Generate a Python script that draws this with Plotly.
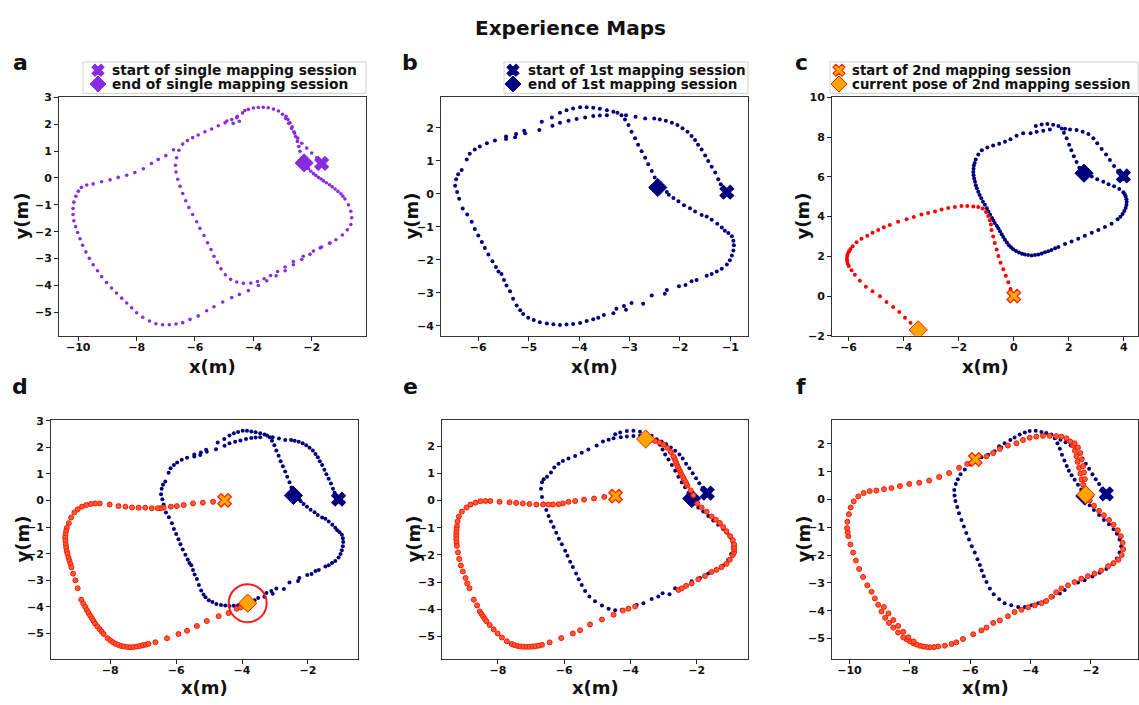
import plotly.graph_objects as go

W, H = 1139, 705
FONT = "DejaVu Sans"
NAVY = "#00007f"
PURPLE = "#8a2be2"
RED = "#ff1a00"
RING_FILL = "#ff5a36"
ORANGE = "#ffa500"

# ---------------- panel a: single mapping session ----------------
single_start = (-1.66, 0.54)
single_end = (-2.26, 0.56)
single_path = [
    (-1.83, 0.75), (-2.0, 0.93), (-2.17, 1.11), (-2.34, 1.29), (-2.48, 1.48), (-2.59, 1.66),
    (-2.69, 1.84), (-2.79, 2.03), (-2.89, 2.21), (-3.0, 2.37), (-3.14, 2.49), (-3.31, 2.56),
    (-3.49, 2.61), (-3.66, 2.63), (-3.83, 2.62), (-4.0, 2.6), (-4.17, 2.55), (-4.29, 2.51),
    (-2.34, 0.75), (-2.4, 0.99), (-2.44, 1.17), (-2.49, 1.36), (-2.55, 1.54), (-2.61, 1.72),
    (-2.67, 1.9), (-2.74, 2.05), (-2.81, 2.17), (-2.88, 2.29),
    (-2.2, 0.45), (-2.11, 0.34), (-2.03, 0.25), (-1.94, 0.16), (-1.86, 0.09), (-1.77, 0.02),
    (-1.68, -0.04), (-1.6, -0.11), (-1.5, -0.18), (-1.39, -0.25), (-1.3, -0.33), (-1.2, -0.41),
    (-1.1, -0.5), (-1.0, -0.59), (-0.93, -0.68), (-0.86, -0.78), (-0.74, -1.0), (-0.66, -1.24),
    (-0.63, -1.48), (-0.66, -1.73), (-0.78, -1.93), (-0.95, -2.12), (-1.17, -2.3), (-1.39, -2.43),
    (-1.66, -2.57), (-1.94, -2.72), (-2.29, -2.91), (-2.63, -3.11), (-2.91, -3.31), (-3.17, -3.48),
    (-3.41, -3.63), (-3.63, -3.75), (-3.86, -3.85), (-4.09, -3.91), (-4.34, -3.92), (-4.57, -3.87),
    (-4.78, -3.77), (-4.96, -3.6), (-5.11, -3.38), (-5.23, -3.14), (-5.35, -2.91), (-5.45, -2.66),
    (-5.57, -2.41), (-5.69, -2.14), (-5.83, -1.87), (-5.94, -1.63), (-6.08, -1.36), (-6.21, -1.1),
    (-6.32, -0.85), (-6.42, -0.58), (-6.51, -0.31), (-6.59, -0.05), (-6.65, 0.22), (-6.67, 0.47),
    (-6.63, 0.75), (-6.55, 1.03), (-6.42, 1.26), (-6.26, 1.39), (-6.08, 1.5), (-5.89, 1.6),
    (-5.66, 1.72), (-5.43, 1.82), (-5.2, 1.94), (-4.97, 2.05), (-4.74, 2.17), (-4.55, 2.29),
    (-4.37, 2.42), (-4.91, 2.12), (-4.69, 2.03), (-4.48, 2.11), (-4.57, 2.24),
    (-6.74, 1.05), (-7.0, 0.83), (-7.26, 0.69), (-7.49, 0.54), (-7.77, 0.34), (-8.06, 0.2),
    (-8.34, 0.1), (-8.63, 0.02), (-8.91, -0.07), (-9.2, -0.14), (-9.49, -0.22), (-9.71, -0.26),
    (-9.89, -0.35), (-10.0, -0.49), (-10.08, -0.68), (-10.15, -0.9), (-10.18, -1.14),
    (-10.18, -1.36), (-10.15, -1.59), (-10.09, -1.81), (-10.02, -2.03), (-9.94, -2.26),
    (-9.85, -2.5), (-9.74, -2.75), (-9.62, -2.99), (-9.49, -3.23), (-9.34, -3.45), (-9.2, -3.67),
    (-9.03, -3.89), (-8.86, -4.09), (-8.69, -4.28), (-8.51, -4.47), (-8.34, -4.65), (-8.17, -4.83),
    (-8.0, -5.01), (-7.79, -5.18), (-7.56, -5.32), (-7.34, -5.42), (-7.11, -5.46), (-6.88, -5.46),
    (-6.65, -5.43), (-6.42, -5.38), (-6.17, -5.26), (-5.89, -5.13), (-5.6, -4.94), (-5.35, -4.79),
    (-5.05, -4.61), (-4.74, -4.45), (-4.48, -4.33), (-4.17, -4.19), (-3.83, -4.0), (-3.54, -3.82),
    (-3.22, -3.64), (-2.91, -3.45), (-2.63, -3.23), (-2.34, -3.03), (-2.06, -2.84), (-1.71, -2.6),
    (-1.37, -2.42),
]

# ---------------- 1st mapping session (panels b and d) ----------------
first_start = (-1.07, 0.05)
first_end = (-2.44, 0.19)
first_path = [
    (-1.19, 0.29), (-1.24, 0.44), (-1.3, 0.64), (-1.37, 0.82), (-1.44, 0.99), (-1.5, 1.16),
    (-1.57, 1.34), (-1.64, 1.48), (-1.7, 1.63), (-1.77, 1.75), (-1.85, 1.88), (-1.95, 1.98),
    (-2.05, 2.08), (-2.16, 2.15), (-2.28, 2.21), (-2.4, 2.25), (-2.51, 2.28), (-2.69, 2.28),
    (-2.88, 2.33), (-3.07, 2.38),
    (-2.5, 0.49), (-2.56, 0.69), (-2.63, 0.89), (-2.69, 1.09), (-2.76, 1.29), (-2.83, 1.48),
    (-2.89, 1.68), (-2.96, 1.88), (-3.02, 2.08), (-3.09, 2.25), (-3.16, 2.38), (-3.24, 2.45),
    (-3.32, 2.48), (-3.45, 2.53), (-3.59, 2.57), (-3.72, 2.6), (-3.85, 2.62), (-3.98, 2.62),
    (-4.12, 2.58), (-4.25, 2.53), (-4.38, 2.45), (-4.54, 2.31), (-4.74, 2.18),
    (-3.45, 2.38), (-3.59, 2.37), (-3.72, 2.35), (-3.88, 2.31), (-4.05, 2.26), (-4.21, 2.21),
    (-4.38, 2.15), (-4.53, 2.06), (-4.79, 1.93), (-5.09, 1.91), (-5.07, 1.83), (-5.25, 1.81),
    (-5.27, 1.71), (-5.45, 1.73), (-5.45, 1.66), (-5.67, 1.61), (-5.83, 1.53), (-5.97, 1.43),
    (-6.07, 1.34), (-6.17, 1.21), (-6.23, 1.04), (-6.33, 0.72), (-6.4, 0.59), (-6.44, 0.44),
    (-6.46, 0.24), (-6.42, 0.05), (-6.38, -0.15), (-6.31, -0.45), (-6.22, -0.63), (-6.13, -0.85),
    (-6.07, -1.07), (-6.0, -1.26), (-5.93, -1.46), (-5.87, -1.64), (-5.8, -1.84), (-5.72, -2.04),
    (-5.65, -2.22), (-5.6, -2.35), (-5.54, -2.43), (-5.49, -2.61), (-5.44, -2.78), (-5.37, -2.95),
    (-5.31, -3.18), (-5.24, -3.38), (-5.17, -3.53), (-5.11, -3.64), (-5.01, -3.75), (-4.9, -3.82),
    (-4.78, -3.89), (-4.64, -3.93), (-4.51, -3.95), (-4.38, -3.97), (-4.25, -3.96), (-4.12, -3.94),
    (-3.98, -3.91), (-3.85, -3.85), (-3.72, -3.8), (-3.62, -3.75), (-3.51, -3.67), (-3.32, -3.62),
    (-3.26, -3.48), (-3.11, -3.4), (-3.07, -3.51), (-2.96, -3.31), (-2.73, -3.33), (-2.56, -3.08),
    (-2.3, -3.03), (-2.26, -2.91), (-2.02, -2.8), (-1.89, -2.76), (-1.77, -2.65), (-1.67, -2.61),
    (-1.47, -2.48), (-1.37, -2.43), (-1.27, -2.35), (-1.17, -2.27), (-1.07, -2.14), (-1.01, -2.01),
    (-0.97, -1.87), (-0.94, -1.72), (-0.93, -1.56), (-0.94, -1.42), (-0.97, -1.29), (-1.04, -1.19),
    (-1.11, -1.12), (-1.17, -1.02), (-1.26, -0.91), (-1.37, -0.79), (-1.47, -0.69), (-1.57, -0.64),
    (-1.7, -0.54), (-1.8, -0.44), (-1.92, -0.35), (-2.03, -0.23), (-2.13, -0.13), (-2.22, -0.03),
    (-2.26, 0.05),
]

# ---------------- panel c: both sessions in separate frames ----------------
c_first_start = (3.98, 6.04)
c_first_end = (2.55, 6.18)
c_first_path = [
    (3.79, 6.29), (3.64, 6.54), (3.49, 6.84), (3.35, 7.12), (3.19, 7.4), (3.03, 7.69),
    (2.89, 7.94), (2.71, 8.15), (2.5, 8.27), (2.28, 8.35), (2.04, 8.38), (1.86, 8.42),
    (2.38, 6.46), (2.28, 6.74), (2.18, 7.03), (2.09, 7.33), (2.01, 7.61), (1.92, 7.94),
    (1.82, 8.22), (1.74, 8.43), (1.62, 8.55), (1.43, 8.62), (1.22, 8.66), (1.01, 8.63),
    (0.8, 8.55), (1.31, 8.38), (1.07, 8.32), (0.83, 8.27), (0.61, 8.19),
    (0.34, 8.19), (0.1, 8.06), (-0.12, 7.89), (-0.32, 7.76), (-0.53, 7.66), (-0.75, 7.58),
    (-0.96, 7.48), (-1.16, 7.33), (-1.29, 7.12), (-1.38, 6.87), (-1.42, 6.7), (-1.45, 6.57),
    (-1.46, 6.4), (-1.47, 6.24), (-1.46, 6.08), (-1.44, 5.91), (-1.41, 5.75), (-1.38, 5.58),
    (-1.34, 5.42), (-1.29, 5.25), (-1.24, 5.08), (-1.18, 4.92), (-1.12, 4.75), (-1.05, 4.59),
    (-0.98, 4.42), (-0.92, 4.26), (-0.86, 4.1), (-0.79, 3.93), (-0.74, 3.8), (-0.69, 3.67),
    (-0.62, 3.54), (-0.56, 3.41), (-0.5, 3.26), (-0.44, 3.11), (-0.38, 2.97), (-0.32, 2.83),
    (-0.25, 2.69), (-0.18, 2.55), (-0.1, 2.45), (-0.02, 2.35), (0.08, 2.27), (0.19, 2.19),
    (0.3, 2.13), (0.4, 2.09), (0.52, 2.06), (0.65, 2.04), (0.77, 2.06), (0.89, 2.09),
    (1.01, 2.14), (1.13, 2.2), (1.25, 2.26), (1.37, 2.32), (1.5, 2.4), (1.62, 2.47),
    (1.86, 2.62), (2.1, 2.75), (2.34, 2.88), (2.58, 3.04), (2.83, 3.19), (3.07, 3.32),
    (3.31, 3.47), (3.55, 3.64), (3.77, 3.87), (3.87, 3.99), (3.95, 4.13), (4.01, 4.28),
    (4.06, 4.43), (4.09, 4.58), (4.1, 4.73), (4.09, 4.87), (4.06, 5.01), (4.03, 5.12),
    (3.98, 5.22), (3.83, 5.38), (3.64, 5.52), (3.44, 5.63), (3.25, 5.75), (3.03, 5.88),
    (2.83, 6.01), (2.7, 6.1),
]
c_second_start = (0.0, 0.0)
c_second_now = (-3.47, -1.7)
c_second_path = [
    (-0.12, 0.36), (-0.2, 0.69), (-0.29, 1.02), (-0.38, 1.35), (-0.48, 1.68), (-0.56, 2.01),
    (-0.62, 2.34), (-0.69, 2.67), (-0.75, 3.0), (-0.81, 3.32), (-0.83, 3.6), (-0.87, 3.82),
    (-0.93, 4.03), (-1.01, 4.23), (-1.13, 4.4), (-1.29, 4.48), (-1.47, 4.51), (-1.69, 4.53),
    (-1.9, 4.53), (-2.14, 4.48), (-2.38, 4.43), (-2.62, 4.35), (-2.86, 4.26), (-3.11, 4.18),
    (-3.35, 4.1), (-3.63, 3.98), (-3.89, 3.87), (-4.2, 3.74), (-4.5, 3.57), (-4.72, 3.46),
    (-4.92, 3.32), (-5.13, 3.19), (-5.32, 3.04), (-5.53, 2.88), (-5.71, 2.71), (-5.85, 2.5),
    (-5.93, 2.37), (-5.98, 2.25), (-6.03, 2.12), (-6.05, 2.01), (-6.06, 1.88), (-6.05, 1.76),
    (-6.03, 1.63), (-5.99, 1.51), (-5.89, 1.3), (-5.77, 1.07), (-5.59, 0.77), (-5.37, 0.47),
    (-5.13, 0.24), (-4.86, -0.01), (-4.62, -0.3), (-4.38, -0.55), (-4.16, -0.8), (-3.95, -1.09),
    (-3.75, -1.34),
]

# ---------------- panel d: 2nd session joined to the 1st map ----------------
d_second_start = (-4.53, 0.01)
d_second_now = (-3.83, -3.86)
d_second_path = [
    (-4.88, -0.05), (-5.19, -0.08), (-5.49, -0.11), (-5.77, -0.17), (-5.98, -0.21), (-6.16, -0.23),
    (-6.38, -0.27), (-6.48, -0.29), (-6.56, -0.29), (-6.74, -0.29), (-6.94, -0.27), (-7.14, -0.27),
    (-7.34, -0.26), (-7.54, -0.23), (-7.75, -0.21), (-8.02, -0.15), (-8.32, -0.11), (-8.46, -0.11),
    (-8.59, -0.13), (-8.73, -0.17), (-8.86, -0.23), (-8.99, -0.33), (-9.09, -0.45), (-9.19, -0.64),
    (-9.26, -0.85), (-9.32, -1.03), (-9.34, -1.15), (-9.36, -1.28), (-9.37, -1.4), (-9.36, -1.52),
    (-9.35, -1.65), (-9.34, -1.77), (-9.32, -1.9), (-9.3, -2.01), (-9.27, -2.14), (-9.24, -2.26),
    (-9.21, -2.38), (-9.18, -2.51), (-9.13, -2.75), (-9.06, -3.0), (-8.99, -3.3), (-8.88, -3.73),
    (-8.82, -3.87), (-8.76, -4.0), (-8.71, -4.12), (-8.66, -4.23), (-8.61, -4.33), (-8.56, -4.43),
    (-8.51, -4.53), (-8.46, -4.63), (-8.39, -4.74), (-8.32, -4.84), (-8.26, -4.93), (-8.2, -5.02),
    (-8.08, -5.18), (-8.0, -5.26), (-7.92, -5.33), (-7.84, -5.39), (-7.75, -5.43), (-7.67, -5.47),
    (-7.58, -5.49), (-7.48, -5.51), (-7.39, -5.52), (-7.29, -5.51), (-7.19, -5.49), (-7.1, -5.47),
    (-7.01, -5.44), (-6.92, -5.42), (-6.84, -5.39), (-6.63, -5.33), (-6.28, -5.18), (-5.93, -5.02),
    (-5.67, -4.9), (-5.37, -4.72), (-5.07, -4.53), (-4.71, -4.35), (-4.41, -4.23), (-4.16, -4.07),
    (-4.05, -4.02),
]

# ---------------- panel e ----------------
e_first_start = (-1.68, 0.27)
e_first_end = (-2.15, 0.07)
e_first_path = [
    (-1.82, 0.46), (-1.92, 0.63), (-2.02, 0.82), (-2.12, 1.0), (-2.22, 1.18), (-2.32, 1.35),
    (-2.42, 1.54), (-2.52, 1.69), (-2.65, 1.83), (-2.78, 1.95), (-2.92, 2.07), (-3.06, 2.17),
    (-3.21, 2.25),
    (-2.25, 0.27), (-2.35, 0.49), (-2.45, 0.67), (-2.55, 0.87), (-2.65, 1.09), (-2.75, 1.3),
    (-2.85, 1.51), (-2.95, 1.69), (-3.03, 1.87), (-3.11, 2.05), (-3.21, 2.23), (-3.36, 2.38),
    (-3.51, 2.47), (-3.71, 2.53), (-3.91, 2.56), (-4.11, 2.55), (-4.31, 2.5), (-4.46, 2.43),
    (-3.71, 2.38), (-3.91, 2.37), (-4.11, 2.35), (-4.29, 2.32), (-4.51, 2.29), (-4.66, 2.23),
    (-4.83, 2.17), (-5.02, 2.02), (-5.27, 1.87), (-5.47, 1.75), (-5.67, 1.63), (-5.87, 1.54),
    (-6.04, 1.45), (-6.17, 1.35), (-6.3, 1.21), (-6.4, 1.03), (-6.52, 0.87), (-6.62, 0.78),
    (-6.67, 0.67), (-6.7, 0.43), (-6.67, 0.13), (-6.62, -0.11), (-6.54, -0.35), (-6.47, -0.57),
    (-6.4, -0.77), (-6.32, -0.98), (-6.24, -1.19), (-6.16, -1.41), (-6.07, -1.61), (-5.97, -1.85),
    (-5.9, -2.03), (-5.82, -2.25), (-5.74, -2.45), (-5.64, -2.69), (-5.56, -2.9), (-5.47, -3.11),
    (-5.37, -3.33), (-5.24, -3.53), (-5.07, -3.71), (-4.86, -3.86), (-4.66, -3.98), (-4.46, -4.04),
    (-4.26, -4.02), (-4.06, -3.96), (-3.81, -3.84), (-3.61, -3.78), (-3.36, -3.62), (-3.16, -3.53),
    (-3.03, -3.41), (-2.82, -3.45), (-2.65, -3.23),
    (-2.15, -2.97), (-1.9, -2.85), (-1.65, -2.69), (-1.4, -2.57), (-1.2, -2.39), (-1.05, -2.18),
    (-0.96, -1.97), (-0.91, -1.73), (-0.91, -1.55), (-0.97, -1.37), (-1.08, -1.19), (-1.2, -1.05),
    (-1.35, -0.89), (-1.5, -0.74), (-1.65, -0.57), (-1.8, -0.41), (-1.95, -0.26), (-2.05, -0.11),
]
e_second_start = (-4.45, 0.16)
e_second_now = (-3.54, 2.26)
e_second_path = [
    (-4.79, 0.13), (-5.1, 0.07), (-5.4, 0.03), (-5.67, -0.02), (-5.87, -0.05), (-6.04, -0.11),
    (-6.17, -0.14), (-6.34, -0.15), (-6.47, -0.15), (-6.64, -0.15), (-6.84, -0.15), (-7.05, -0.13),
    (-7.25, -0.11), (-7.45, -0.09), (-7.65, -0.07), (-7.95, -0.05), (-8.23, -0.02), (-8.38, -0.02),
    (-8.53, -0.03), (-8.68, -0.08), (-8.83, -0.15), (-8.95, -0.26), (-9.09, -0.41), (-9.18, -0.59),
    (-9.22, -0.77), (-9.24, -0.95), (-9.25, -1.07), (-9.26, -1.19), (-9.26, -1.31), (-9.26, -1.43),
    (-9.25, -1.55), (-9.24, -1.67), (-9.21, -1.91), (-9.17, -2.15), (-9.12, -2.39), (-9.06, -2.61),
    (-8.98, -2.85), (-8.93, -3.05), (-8.86, -3.23), (-8.73, -3.65), (-8.63, -3.86), (-8.55, -4.08),
    (-8.5, -4.17), (-8.45, -4.26), (-8.4, -4.35), (-8.35, -4.44), (-8.25, -4.58), (-8.13, -4.74),
    (-8.01, -4.89), (-7.88, -5.04), (-7.73, -5.18), (-7.58, -5.28), (-7.5, -5.32), (-7.41, -5.35),
    (-7.32, -5.37), (-7.23, -5.38), (-7.14, -5.38), (-7.05, -5.38), (-6.96, -5.37), (-6.87, -5.36),
    (-6.77, -5.34), (-6.67, -5.31), (-6.44, -5.22), (-6.09, -5.06), (-5.74, -4.89), (-5.52, -4.77),
    (-5.22, -4.56), (-4.86, -4.38), (-4.51, -4.2), (-4.23, -4.05), (-4.06, -3.98), (-3.86, -3.9),
    (-2.55, -3.29), (-2.45, -3.23), (-2.32, -3.14), (-2.15, -3.05), (-1.95, -2.9), (-1.75, -2.78),
    (-1.55, -2.63), (-1.4, -2.55), (-1.25, -2.45), (-1.1, -2.33), (-1.0, -2.18), (-0.91, -2.01),
    (-0.87, -1.9), (-0.87, -1.79), (-0.87, -1.7), (-0.87, -1.61), (-0.91, -1.46), (-0.99, -1.31),
    (-1.1, -1.13), (-1.2, -0.98), (-1.3, -0.83), (-1.42, -0.71), (-1.55, -0.59), (-1.7, -0.41),
    (-1.85, -0.26), (-1.98, -0.11), (-2.1, 0.19), (-2.18, 0.37), (-2.28, 0.55), (-2.32, 0.64),
    (-2.36, 0.73), (-2.4, 0.82), (-2.44, 0.91), (-2.48, 1.0), (-2.51, 1.09), (-2.55, 1.18),
    (-2.58, 1.27), (-2.61, 1.36), (-2.64, 1.45), (-2.67, 1.54), (-2.7, 1.62), (-2.78, 1.78),
    (-2.88, 1.93), (-3.0, 2.05), (-3.13, 2.13), (-3.26, 2.19), (-3.39, 2.23),
]

# ---------------- panel f ----------------
f_first_start = (-1.49, 0.2)
f_first_end = (-2.2, 0.12)
f_first_path = [
    (-1.62, 0.38), (-1.73, 0.56), (-1.84, 0.73), (-1.95, 0.91), (-2.06, 1.1), (-2.17, 1.28),
    (-2.28, 1.47), (-2.39, 1.64), (-2.53, 1.8), (-2.67, 1.94), (-2.84, 2.06), (-3.01, 2.15),
    (-3.17, 2.22),
    (-3.31, 2.34), (-3.2, 2.2), (-3.11, 2.02), (-3.03, 1.82), (-2.96, 1.61), (-2.88, 1.4),
    (-2.8, 1.2), (-2.73, 1.03), (-2.64, 0.87), (-2.54, 0.71), (-2.43, 0.53), (-2.32, 0.36),
    (-3.48, 2.39), (-3.64, 2.43), (-3.83, 2.47), (-4.03, 2.46), (-4.19, 2.41), (-4.36, 2.34),
    (-4.53, 2.23), (-4.67, 2.14), (-4.86, 2.02), (-4.97, 1.87), (-5.04, 1.91), (-5.19, 1.73),
    (-5.41, 1.61), (-5.63, 1.52), (-5.82, 1.4), (-5.99, 1.26), (-6.18, 1.08), (-6.32, 0.91),
    (-6.41, 0.73), (-6.48, 0.56), (-6.53, 0.34), (-6.52, 0.14), (-6.49, -0.06), (-6.43, -0.27),
    (-6.37, -0.5), (-6.29, -0.74), (-6.21, -0.97), (-6.13, -1.21), (-6.04, -1.44), (-5.95, -1.68),
    (-5.85, -1.91), (-5.76, -2.15), (-5.68, -2.36), (-5.62, -2.56), (-5.55, -2.76), (-5.46, -2.97),
    (-5.35, -3.2), (-5.22, -3.41), (-5.04, -3.59), (-4.86, -3.73), (-4.64, -3.81), (-4.41, -3.87),
    (-4.19, -3.87), (-3.97, -3.81), (-3.75, -3.73), (-3.53, -3.67), (-3.26, -3.5), (-3.03, -3.38),
    (-2.87, -3.26), (-2.43, -2.99), (-2.21, -2.91), (-1.95, -2.77), (-1.71, -2.64), (-1.49, -2.5),
    (-1.29, -2.32), (-1.14, -2.12), (-1.05, -1.91), (-1.0, -1.68), (-1.05, -1.44), (-1.14, -1.23),
    (-1.25, -1.07), (-1.4, -0.89), (-1.57, -0.74), (-1.73, -0.56), (-1.9, -0.38), (-2.04, -0.21),
    (-2.15, -0.03),
]
f_second_start = (-5.83, 1.44)
f_second_now = (-2.17, 0.17)
f_second_path = [
    (-5.46, 1.55), (-5.24, 1.67), (-5.02, 1.82), (-4.75, 1.94), (-4.47, 2.02), (-4.25, 2.14),
    (-4.03, 2.22), (-3.81, 2.26), (-3.59, 2.29), (-3.37, 2.29), (-3.15, 2.28), (-2.98, 2.26),
    (-2.81, 2.2), (-2.68, 2.08), (-2.59, 1.94), (-2.53, 1.75), (-2.48, 1.55), (-2.44, 1.35),
    (-2.39, 1.14), (-2.35, 0.93), (-2.31, 0.72), (-2.26, 0.53), (-2.21, 0.36),
    (-2.54, 2.02), (-2.43, 1.87), (-2.35, 1.67), (-2.31, 1.44), (-2.26, 1.2), (-2.23, 0.97),
    (-2.2, 0.73),
    (-2.04, -0.03), (-1.9, -0.23), (-1.73, -0.41), (-1.57, -0.57), (-1.4, -0.74), (-1.25, -0.91),
    (-1.11, -1.11), (-1.01, -1.32), (-0.95, -1.56), (-0.93, -1.79), (-0.98, -2.0), (-1.09, -2.17),
    (-1.25, -2.29), (-1.43, -2.4), (-1.66, -2.56), (-1.88, -2.67), (-2.1, -2.76), (-2.32, -2.85),
    (-2.54, -2.97), (-2.76, -3.09), (-2.98, -3.2), (-3.15, -3.34), (-3.31, -3.5), (-3.48, -3.65),
    (-3.64, -3.73), (-3.86, -3.81), (-4.08, -3.88), (-4.3, -3.97), (-4.53, -4.05), (-4.75, -4.2),
    (-5.02, -4.35), (-5.24, -4.44), (-5.46, -4.61), (-5.63, -4.71), (-5.9, -4.85), (-6.24, -5.02),
    (-6.46, -5.14), (-6.62, -5.2), (-6.84, -5.26), (-7.06, -5.29), (-7.2, -5.31), (-7.34, -5.32),
    (-7.45, -5.31), (-7.56, -5.29), (-7.67, -5.26), (-7.78, -5.22), (-7.89, -5.17), (-8.0, -5.1),
    (-8.11, -5.03), (-8.22, -4.96), (-8.39, -4.79), (-8.55, -4.61), (-8.69, -4.44), (-8.82, -4.26),
    (-8.94, -4.03), (-9.05, -3.79), (-9.16, -3.56), (-9.27, -3.32), (-9.41, -3.09), (-9.55, -2.79),
    (-9.68, -2.5), (-9.79, -2.2), (-9.88, -1.91), (-9.97, -1.62), (-10.04, -1.32), (-10.06, -1.18),
    (-10.08, -1.03), (-10.07, -0.8), (-10.02, -0.53), (-9.96, -0.29), (-9.86, -0.07), (-9.71, 0.11),
    (-9.53, 0.23), (-9.33, 0.3), (-9.11, 0.32), (-8.86, 0.37), (-8.61, 0.41), (-8.33, 0.48),
    (-8.02, 0.56), (-7.69, 0.6), (-7.36, 0.68), (-7.03, 0.81), (-6.7, 0.95), (-6.37, 1.14),
    (-6.1, 1.28),
    (-8.86, -3.87), (-8.71, -4.1), (-8.55, -4.34), (-8.39, -4.55), (-8.22, -4.76), (-8.05, -4.96),
    (-7.87, -5.11),
]

TITLE = "Experience Maps"
PANEL_LETTERS = ["a", "b", "c", "d", "e", "f"]
LEGEND_TEXT = {
    "a": ("start of single mapping session", "end of single mapping session"),
    "b": ("start of 1st mapping session", "end of 1st mapping session"),
    "c": ("start of 2nd mapping session", "current pose of 2nd mapping session"),
}

# ---------------- figure layout (pixel boxes of the six axes) ----------------
boxes = {
    "a": (59, 366, 93, 336), "b": (441, 748, 93, 336), "c": (832, 1138, 93, 336),
    "d": (51, 358, 422, 665), "e": (442, 748, 422, 665), "f": (832, 1138, 422, 665),
}
ranges = {
    "a": ([-10.66, -0.14], [-5.87, 3.0]),
    "b": ([-6.74, -0.65], [-4.30, 2.92]),
    "c": ([-6.6, 4.51], [-2.0, 10.0]),
    "d": ([-9.80, -0.48], [-5.95, 3.02]),
    "e": ([-9.69, -0.45], [-5.82, 2.95]),
    "f": ([-10.58, -0.44], [-5.73, 2.85]),
}
tickvals = {
    "a": ([-10, -8, -6, -4, -2], [-5, -4, -3, -2, -1, 0, 1, 2, 3]),
    "b": ([-6, -5, -4, -3, -2, -1], [-4, -3, -2, -1, 0, 1, 2]),
    "c": ([-6, -4, -2, 0, 2, 4], [-2, 0, 2, 4, 6, 8, 10]),
    "d": ([-8, -6, -4, -2], [-5, -4, -3, -2, -1, 0, 1, 2, 3]),
    "e": ([-8, -6, -4, -2], [-5, -4, -3, -2, -1, 0, 1, 2]),
    "f": ([-10, -8, -6, -4, -2], [-5, -4, -3, -2, -1, 0, 1, 2]),
}
axis_ids = {k: ("x" if i == 0 else f"x{i+1}", "y" if i == 0 else f"y{i+1}")
            for i, k in enumerate(PANEL_LETTERS)}
KEY_AXES = ("x7", "y7")   # full-figure pixel axes used for the legend keys

fig = go.Figure()


def unzip(pts):
    return [p[0] for p in pts], [p[1] for p in pts]


def dots(panel, pts, color, size=4, ring=False):
    xs, ys = unzip(pts)
    xa, ya = axis_ids[panel]
    if ring:
        marker = dict(size=size, color=RING_FILL, line=dict(color=RED, width=1))
    else:
        marker = dict(size=size, color=color, line=dict(width=0))
    fig.add_trace(go.Scatter(x=xs, y=ys, mode="markers", marker=marker,
                             xaxis=xa, yaxis=ya, showlegend=False, hoverinfo="skip"))


def symbol_marker(symbol, fill, edge, scale=1.0):
    if symbol == "x":
        return dict(symbol="x", size=12 * scale, color=fill,
                    line=dict(color=edge or fill, width=1.2 * scale))
    return dict(symbol="diamond", size=14 * scale, color=fill,
                line=dict(color=edge or fill, width=1))


def point(axes, pt, symbol, fill, edge=None, scale=1.0):
    xa, ya = axes
    fig.add_trace(go.Scatter(
        x=[pt[0]], y=[pt[1]], mode="markers", marker=symbol_marker(symbol, fill, edge, scale),
        xaxis=xa, yaxis=ya, showlegend=False, hoverinfo="skip"))


# a
dots("a", single_path, PURPLE, size=3.6)
point(axis_ids["a"], single_start, "x", PURPLE)
point(axis_ids["a"], single_end, "diamond", PURPLE)
# b
dots("b", first_path, NAVY)
point(axis_ids["b"], first_start, "x", NAVY)
point(axis_ids["b"], first_end, "diamond", NAVY)
# c
dots("c", c_first_path, NAVY)
point(axis_ids["c"], c_first_start, "x", NAVY)
point(axis_ids["c"], c_first_end, "diamond", NAVY)
dots("c", c_second_path, "#ff0000")
point(axis_ids["c"], c_second_start, "x", ORANGE, RED)
point(axis_ids["c"], c_second_now, "diamond", ORANGE, RED)
# d
dots("d", first_path, NAVY)
point(axis_ids["d"], first_start, "x", NAVY)
point(axis_ids["d"], first_end, "diamond", NAVY)
dots("d", d_second_path, RED, size=5, ring=True)
point(axis_ids["d"], d_second_start, "x", ORANGE, RED)
point(axis_ids["d"], d_second_now, "diamond", ORANGE, RED)
xa, ya = axis_ids["d"]
fig.add_trace(go.Scatter(x=[d_second_now[0]], y=[d_second_now[1]], mode="markers",
                         marker=dict(symbol="circle-open", size=38, color="#ff1a1a",
                                     line=dict(color="#ff1a1a", width=2)),
                         xaxis=xa, yaxis=ya, showlegend=False, hoverinfo="skip"))
# e
dots("e", e_first_path, NAVY)
point(axis_ids["e"], e_first_start, "x", NAVY)
point(axis_ids["e"], e_first_end, "diamond", NAVY)
dots("e", e_second_path, RED, size=5, ring=True)
point(axis_ids["e"], e_second_start, "x", ORANGE, RED)
point(axis_ids["e"], e_second_now, "diamond", ORANGE, RED)
# f
dots("f", f_first_path, NAVY)
point(axis_ids["f"], f_first_start, "x", NAVY)
point(axis_ids["f"], f_first_end, "diamond", NAVY)
dots("f", f_second_path, RED, size=5, ring=True)
point(axis_ids["f"], f_second_start, "x", ORANGE, RED)
point(axis_ids["f"], f_second_now, "diamond", ORANGE, RED)

# ---------------- legends (boxes drawn in pixel space) ----------------
legend_boxes = {"a": (83, 366, 57, 89), "b": (504, 748, 57, 89), "c": (830, 1138, 57, 89)}
legend_key_x = {"a": 98, "b": 513, "c": 839}
legend_text_x = {"a": 110, "b": 526, "c": 850}
legend_font_size = {"a": 13.8, "b": 13.5, "c": 13.3}
legend_rows = (65.5, 79.5)
legend_styles = {
    "a": ((PURPLE, None), (PURPLE, None)),
    "b": ((NAVY, None), (NAVY, None)),
    "c": ((ORANGE, RED), (ORANGE, RED)),
}
shapes = []
annotations = []
for k, (bx0, bx1, by0, by1) in legend_boxes.items():
    shapes.append(dict(type="rect", xref="paper", yref="paper",
                       x0=bx0 / W, x1=bx1 / W, y0=1 - by1 / H, y1=1 - by0 / H,
                       line=dict(color="#d0d0d0", width=1), fillcolor="white", layer="below"))
    for row, symbol, (fill, edge), label in zip(legend_rows, ("x", "diamond"),
                                                legend_styles[k], LEGEND_TEXT[k]):
        point(KEY_AXES, (legend_key_x[k], row), symbol, fill, edge, scale=0.88)
        annotations.append(dict(text=label, x=legend_text_x[k] / W, y=1 - row / H,
                                xref="paper", yref="paper", xanchor="left", yanchor="middle",
                                showarrow=False,
                                font=dict(family=FONT, size=legend_font_size[k],
                                          weight="bold", color="#111")))

tick_font = dict(family=FONT, size=11, color="#111", weight="bold")
layout = dict(
    width=W, height=H, margin=dict(l=0, r=0, t=0, b=0),
    paper_bgcolor="white", plot_bgcolor="rgba(0,0,0,0)",
    font=dict(family=FONT, color="#111"), showlegend=False,
)
for k in PANEL_LETTERS:
    x0, x1, y0, y1 = boxes[k]
    xa, ya = axis_ids[k]
    xr, yr = ranges[k]
    xt, yt = tickvals[k]
    common = dict(ticks="outside", ticklen=4, tickwidth=1, tickcolor="#222",
                  showline=True, mirror=True, linecolor="#333", linewidth=1,
                  showgrid=False, zeroline=False, tickfont=tick_font)
    layout["xaxis" + xa[1:]] = dict(domain=[x0 / W, x1 / W], range=xr, tickvals=xt,
                                    anchor=ya, ticklabelstandoff=-3, **common)
    layout["yaxis" + ya[1:]] = dict(domain=[1 - y1 / H, 1 - y0 / H], range=yr, tickvals=yt,
                                    anchor=xa, **common)
layout["xaxis7"] = dict(domain=[0, 1], range=[0, W], visible=False, anchor="y7",
                        fixedrange=True)
layout["yaxis7"] = dict(domain=[0, 1], range=[H, 0], visible=False, anchor="x7",
                        fixedrange=True)

annotations.append(dict(text=TITLE, x=570 / W, y=1 - 22 / H, xref="paper", yref="paper",
                        xanchor="center", yanchor="middle", showarrow=False,
                        font=dict(family=FONT, size=20, weight="bold", color="#111")))
letter_pos = {"a": (20, 58), "b": (410, 58), "c": (802, 58),
              "d": (20, 388), "e": (410, 388), "f": (801, 388)}
ylabel_x = {"a": 22, "b": 412, "c": 803, "d": 22, "e": 413, "f": 803}
for k in PANEL_LETTERS:
    lx, ly = letter_pos[k]
    annotations.append(dict(text=k, x=lx / W, y=1 - ly / H, xref="paper", yref="paper",
                            xanchor="center", yanchor="middle", showarrow=False,
                            font=dict(family=FONT, size=22, weight="bold", color="#111")))
    x0, x1, y0, y1 = boxes[k]
    xlab_y = 367 if y0 < 200 else 694
    annotations.append(dict(text="x(m)", x=(x0 + x1) / 2 / W, y=1 - xlab_y / H,
                            xref="paper", yref="paper", xanchor="center", yanchor="middle",
                            showarrow=False,
                            font=dict(family=FONT, size=18, weight="bold", color="#111")))
    annotations.append(dict(text="y(m)", x=ylabel_x[k] / W, y=1 - (y0 + y1) / 2 / H,
                            xref="paper", yref="paper", xanchor="center", yanchor="middle",
                            showarrow=False, textangle=-90,
                            font=dict(family=FONT, size=18, weight="bold", color="#111")))
layout["annotations"] = annotations
layout["shapes"] = shapes

fig.update_layout(**layout)
fig.write_html("out.html")
